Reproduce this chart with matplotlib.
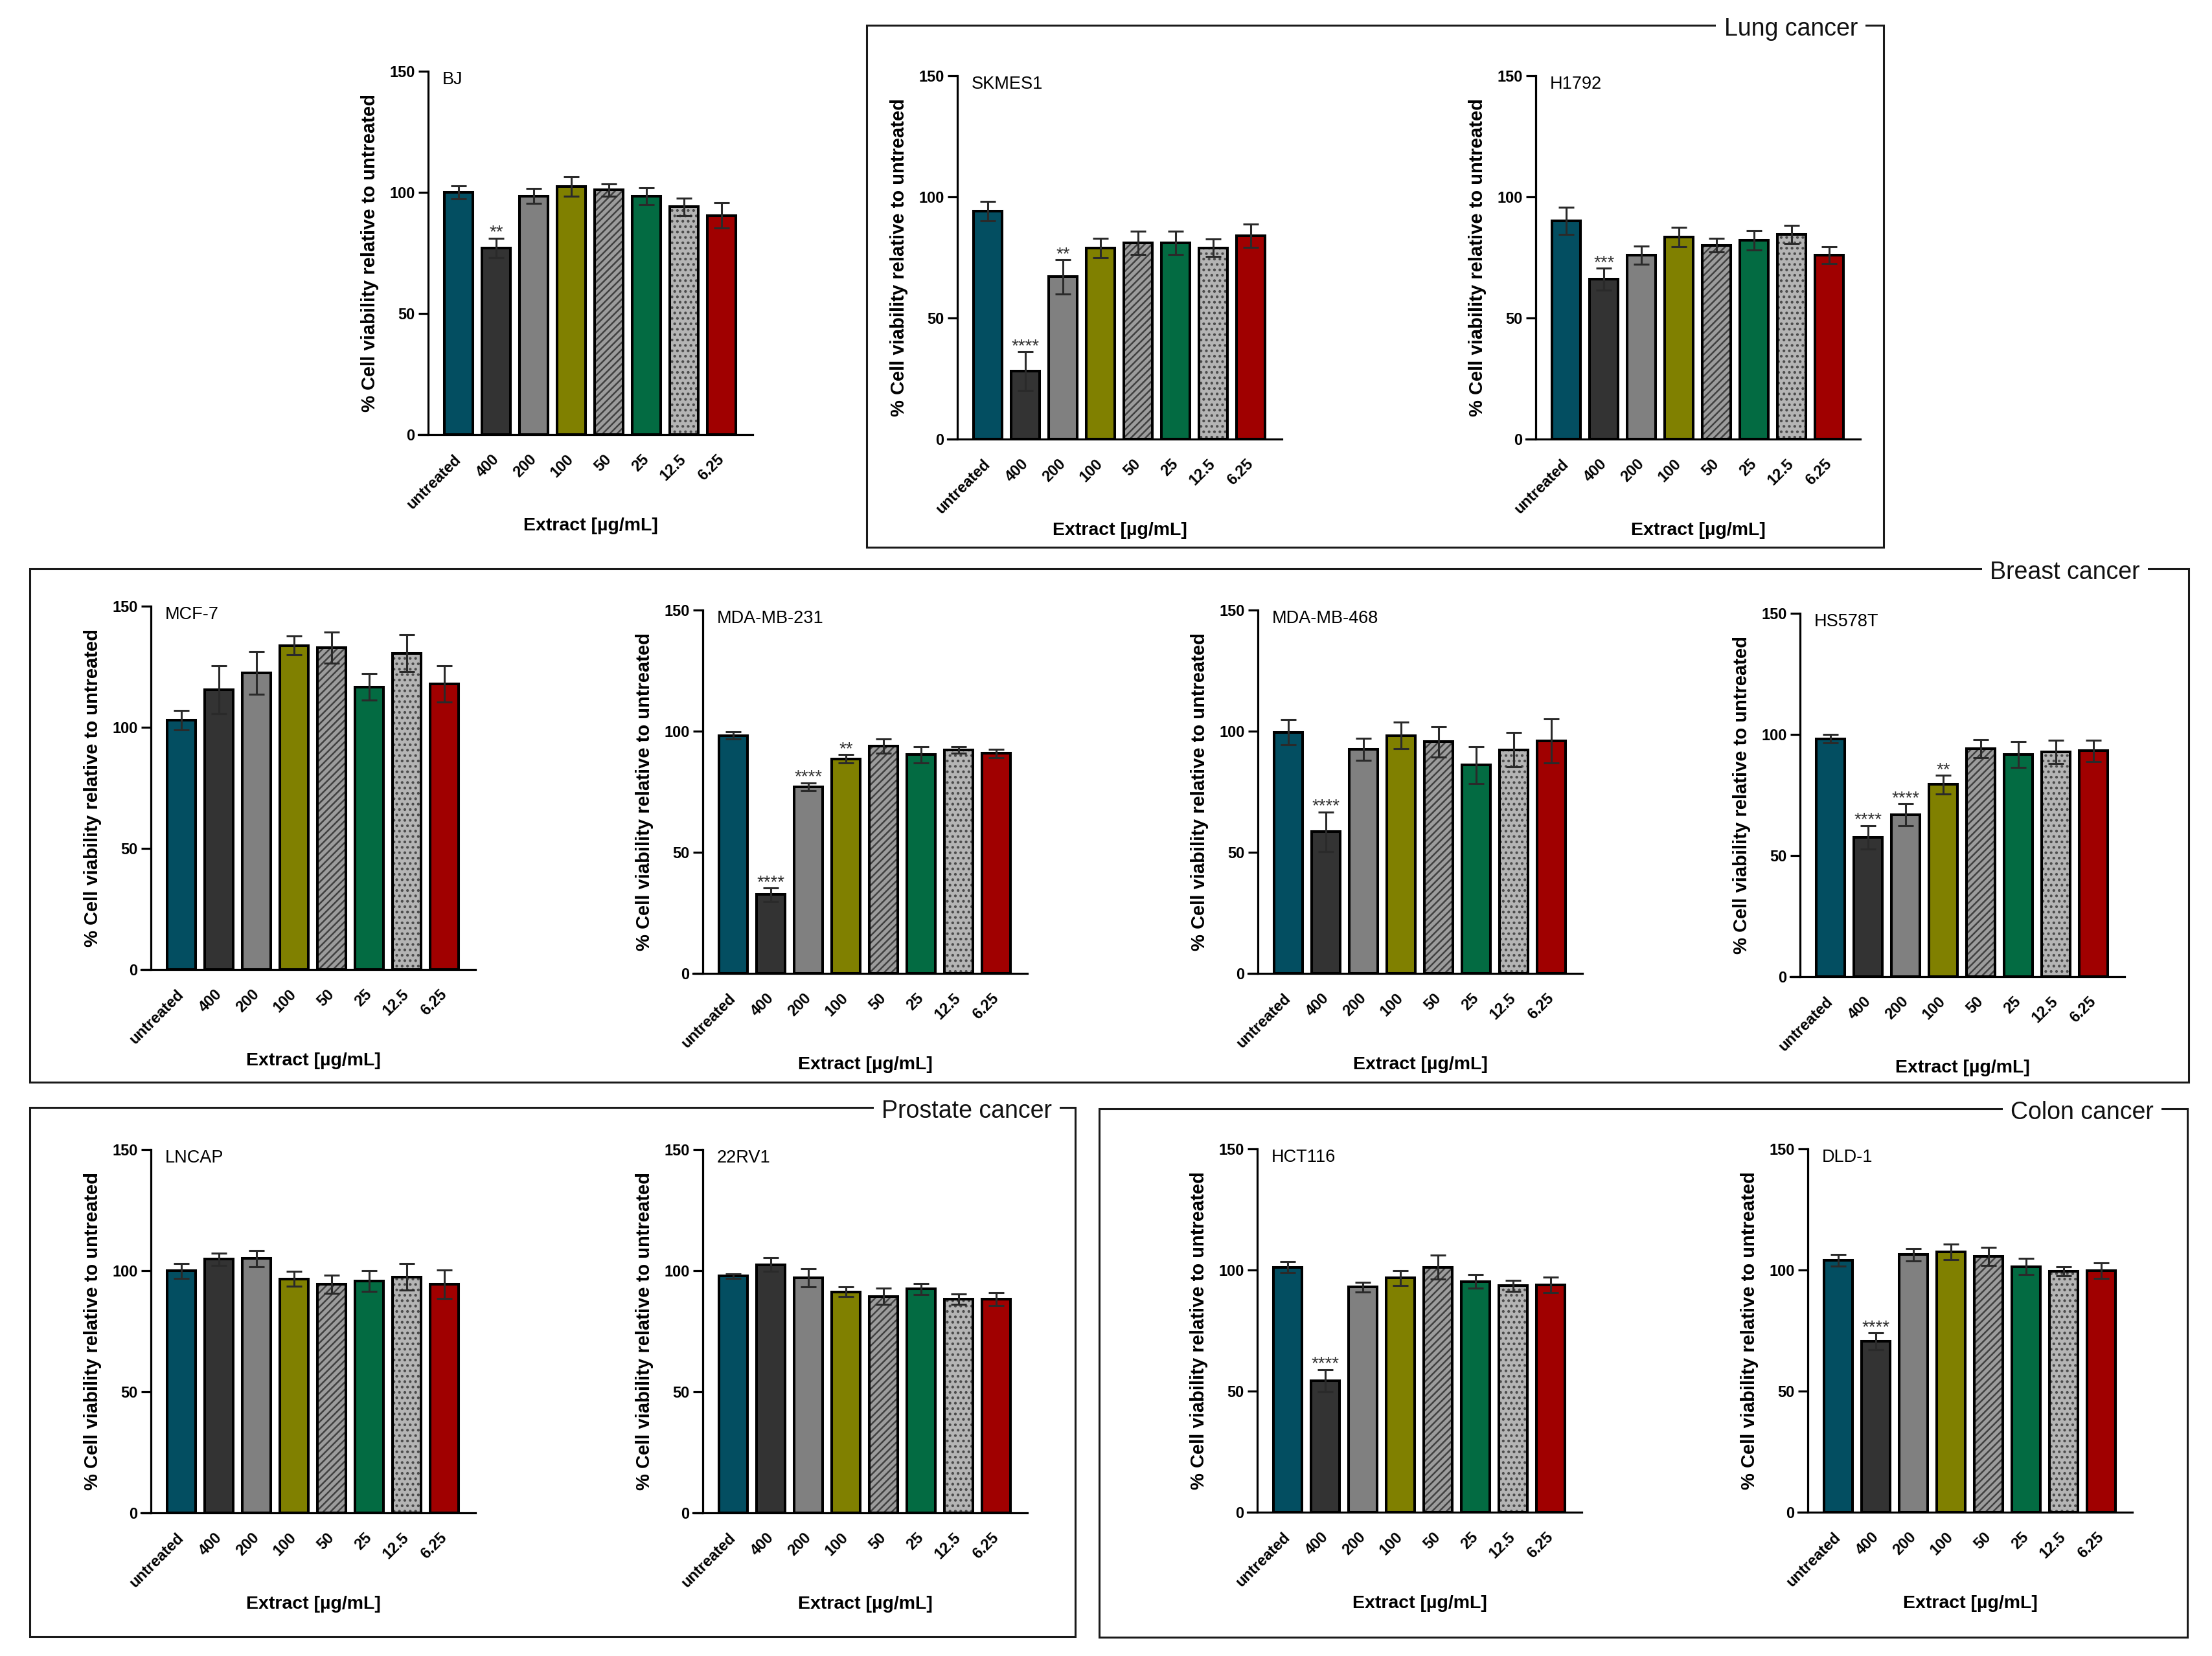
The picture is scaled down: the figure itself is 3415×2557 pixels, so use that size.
import matplotlib
matplotlib.use("Agg")
import matplotlib.pyplot as plt
from matplotlib.patches import Rectangle
import numpy as np

plt.rcParams['font.family'] = ['Liberation Sans', 'DejaVu Sans']
plt.rcParams['hatch.linewidth'] = 1.8

# ---------------- data ----------------
concentrations = ['untreated', '400', '200', '100', '50', '25', '12.5', '6.25']

bj_mean = [100, 77, 98.5, 102.5, 101, 98.5, 94, 90.5]
bj_err = [2.8, 4, 3, 4, 2.6, 3.5, 3.7, 5.3]
bj_sig = ['', '**', '', '', '', '', '', '']

skmes1_mean = [94, 28, 67, 79, 81, 81, 79, 84]
skmes1_err = [4, 8, 7, 4, 4.8, 4.8, 3.6, 4.9]
skmes1_sig = ['', '****', '**', '', '', '', '', '']

h1792_mean = [90, 66, 76, 83.5, 80, 82, 84.5, 76]
h1792_err = [5.6, 4.5, 3.7, 4, 2.8, 4, 3.8, 3.5]
h1792_sig = ['', '***', '', '', '', '', '', '']

mcf7_mean = [103, 115.5, 122.5, 133.8, 133, 116.7, 130.6, 117.9]
mcf7_err = [4, 10, 8.8, 3.9, 6.4, 5.6, 7.6, 7.4]
mcf7_sig = ['', '', '', '', '', '', '', '']

mda231_mean = [98.2, 32.5, 77, 88.6, 93.8, 90.3, 92.2, 90.8]
mda231_err = [1.4, 2.7, 1.7, 1.7, 2.9, 3.4, 1.4, 1.8]
mda231_sig = ['', '****', '****', '**', '', '', '', '']

mda468_mean = [99.5, 58.5, 92.5, 98.2, 95.6, 86, 92.3, 95.9]
mda468_err = [5.2, 8.1, 4.5, 5.5, 6.4, 7.7, 7.1, 9.1]
mda468_sig = ['', '****', '', '', '', '', '', '']

hs578t_mean = [98.2, 57.5, 66.8, 79.3, 94.2, 91.7, 92.8, 93.2]
hs578t_err = [1.8, 4.9, 4.5, 3.8, 3.7, 5.4, 4.9, 4.4]
hs578t_sig = ['', '****', '****', '**', '', '', '', '']

lncap_mean = [99.9, 104.7, 105, 96.6, 94.4, 95.8, 97.4, 94.4]
lncap_err = [3.1, 2.6, 3.3, 3, 3.7, 4.3, 5.5, 5.9]
lncap_sig = ['', '', '', '', '', '', '', '']

rv1_mean = [97.8, 102.5, 97.1, 91.3, 89.4, 92.4, 88.2, 88.2]
rv1_err = [0.9, 2.8, 3.7, 1.9, 3.4, 2.3, 2.2, 2.6]
rv1_sig = ['', '', '', '', '', '', '', '']

hct116_mean = [101.2, 54.3, 93, 96.7, 101.2, 95.3, 93.5, 93.8]
hct116_err = [2.2, 4.6, 2, 3.1, 5, 2.9, 2.2, 3.2]
hct116_sig = ['', '****', '', '', '', '', '', '']

dld1_mean = [104, 70.6, 106.3, 107.5, 105.6, 101.4, 99.4, 99.7]
dld1_err = [2.3, 3.4, 2.5, 3.2, 3.7, 3.4, 1.9, 3.2]
dld1_sig = ['', '****', '', '', '', '', '', '']

y_ticks = [0, 50, 100, 150]
y_label = '% Cell viability relative to untreated'
x_label = 'Extract [µg/mL]'

# ---------------- styles ----------------
bar_colors = ['#034E61', '#333333', '#808080', '#808000', '#9C9C9C', '#036B42', '#B4B4B4', '#A00000']
hatches = [None, None, None, None, '///', None, '..', None]
hatch_colors = [None, None, None, None, '#404040', None, '#4A4A4A', None]

W, H = 3416, 2557
fig = plt.figure(figsize=(W / 100, H / 100), dpi=100)

PITCH = 57.9      # px per category
AX_W = 8.66 * PITCH
AX_H = 561.0
TICK = 15.0
XL0 = -0.82
XL1 = 7.84


def fx(x):
    return x / W


def fy(y):
    return 1 - y / H


def panel(x0, ytop, name, mean, err, sig):
    left_px = x0 - TICK
    width_px = AX_W + TICK
    ax = fig.add_axes([fx(left_px), fy(ytop + AX_H), width_px / W, AX_H / H])
    ax.set_xlim(XL0 - TICK / PITCH, XL1)
    ax.set_ylim(0, 150)
    x = np.arange(len(concentrations))
    ax.bar(x, mean, width=0.76, color=bar_colors, edgecolor='none', linewidth=0, zorder=2)
    for i in range(len(x)):
        if hatches[i]:
            ax.bar(x[i], mean[i], width=0.76, facecolor='none', edgecolor=hatch_colors[i],
                   hatch=hatches[i], linewidth=0, zorder=2.1)
    ax.bar(x, mean, width=0.76, fill=False, edgecolor='black', linewidth=2.9, zorder=2.2)
    ax.errorbar(x, mean, yerr=err, fmt='none', ecolor='#2A2A2A', elinewidth=2.2,
                capsize=8.5, capthick=2.2, zorder=3)
    for i in range(len(x)):
        if sig[i]:
            ax.annotate(sig[i], xy=(x[i], mean[i] + err[i]), xytext=(0, 1),
                        textcoords='offset points', ha='center', va='baseline',
                        fontsize=20, color='#333333', zorder=4)
    for s in ['top', 'right']:
        ax.spines[s].set_visible(False)
    ax.spines['left'].set_position(('data', XL0))
    ax.spines['left'].set_linewidth(2.3)
    ax.spines['bottom'].set_linewidth(2.3)
    ax.spines['left'].set_bounds(0, 150)
    ax.set_yticks(y_ticks)
    ax.set_yticklabels([str(t) for t in y_ticks], fontsize=17, fontweight='bold')
    ax.tick_params(axis='y', length=TICK * 0.72, width=2.3, pad=4)
    ax.set_xticks(x)
    ax.set_xticklabels(concentrations, fontsize=17, fontweight='bold', rotation=45,
                       ha='right', va='center', rotation_mode='anchor')
    ax.tick_params(axis='x', length=0, pad=25)
    ax.patch.set_alpha(0)
    # labels
    fig.text(fx(x0 + 22), fy(ytop + 13), name, ha='left', va='center', fontsize=19.5)
    fig.text(fx(x0 - 90), fy(ytop + AX_H / 2), y_label, rotation=90, ha='center',
             va='center', fontsize=21, fontweight='bold')
    fig.text(fx(x0 + AX_W / 2), fy(ytop + AX_H + 141), x_label, ha='center', va='center',
             fontsize=20.5, fontweight='bold')
    return ax


def box(left, top, right, bottom, title, title_right):
    rect = Rectangle((fx(left), fy(bottom)), (right - left) / W, (bottom - top) / H,
                     transform=fig.transFigure, fill=False, edgecolor='#1A1A1A',
                     linewidth=2.2, zorder=0)
    fig.add_artist(rect)
    fig.text(fx(title_right), fy(top + 6), title, ha='right', va='center', fontsize=27,
             color='#111111', zorder=5,
             bbox=dict(facecolor='white', edgecolor='none', pad=9))


# boxes
box(1338, 39, 2908, 845, 'Lung cancer', 2868)
box(46, 878, 3379, 1671, 'Breast cancer', 3304)
box(46, 1710, 1660, 2527, 'Prostate cancer', 1624)
box(1697, 1712, 3377, 2528, 'Colon cancer', 3325)

# panels
panel(661, 110, 'BJ', bj_mean, bj_err, bj_sig)
panel(1478, 117, 'SKMES1', skmes1_mean, skmes1_err, skmes1_sig)
panel(2371, 117, 'H1792', h1792_mean, h1792_err, h1792_sig)
panel(233, 936, 'MCF-7', mcf7_mean, mcf7_err, mcf7_sig)
panel(1085, 942, 'MDA-MB-231', mda231_mean, mda231_err, mda231_sig)
panel(1942, 942, 'MDA-MB-468', mda468_mean, mda468_err, mda468_sig)
panel(2779, 947, 'HS578T', hs578t_mean, hs578t_err, hs578t_sig)
panel(233, 1775, 'LNCAP', lncap_mean, lncap_err, lncap_sig)
panel(1085, 1775, '22RV1', rv1_mean, rv1_err, rv1_sig)
panel(1941, 1774, 'HCT116', hct116_mean, hct116_err, hct116_sig)
panel(2791, 1774, 'DLD-1', dld1_mean, dld1_err, dld1_sig)

fig.savefig('out.png', dpi=100, facecolor='white')
